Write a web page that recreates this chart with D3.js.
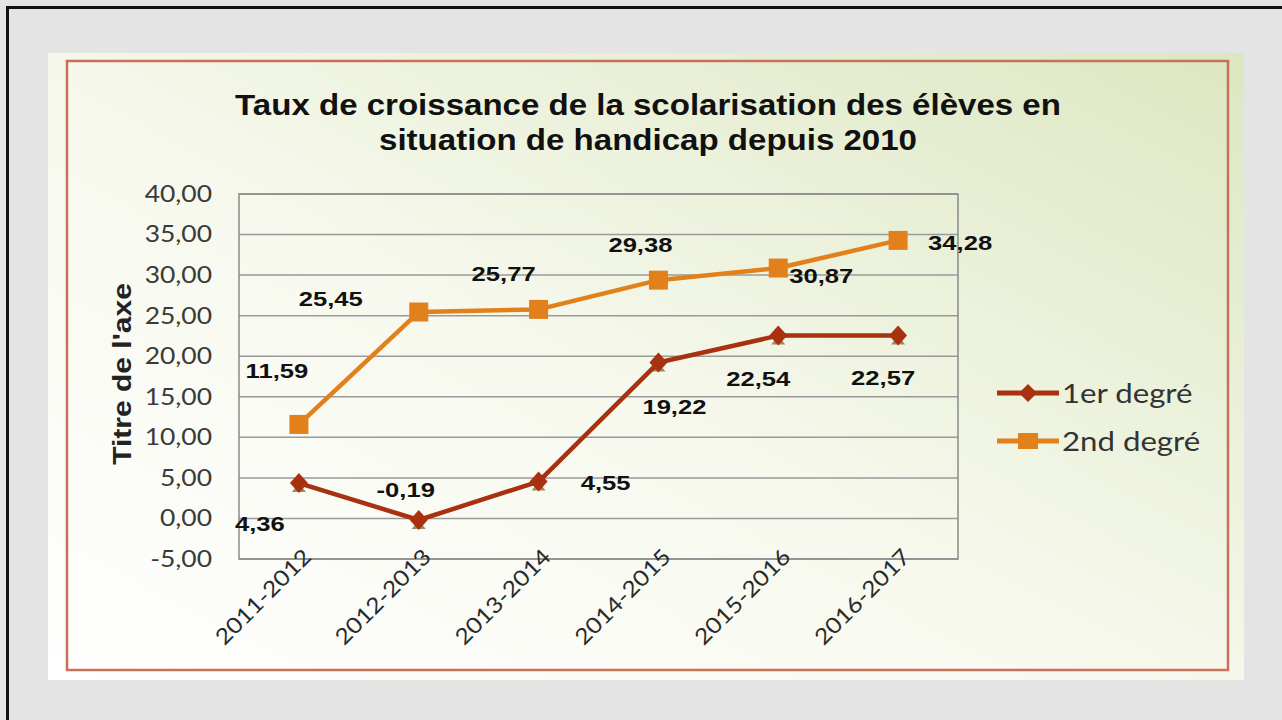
<!DOCTYPE html>
<html>

<head>
    <meta charset='utf-8'>
    <title>Taux de croissance</title>
    <script type='text/javascript' src='https://cdn.jsdelivr.net/npm/d3@7/dist/d3.min.js'></script>
    <style>
        body { margin: 0; background: #e4e4e4; }
    </style>
</head>

<body>
    <svg width='1282' height='720'></svg>
    <script type='text/javascript'>

        // données
        const years = ['2011-2012', '2012-2013', '2013-2014', '2014-2015', '2015-2016', '2016-2017']
        const premierDegre = [4.36, -0.19, 4.55, 19.22, 22.54, 22.57]
        const secondDegre = [11.59, 25.45, 25.77, 29.38, 30.87, 34.28]
        const seriesNames = ['1er degré', '2nd degré']
        const yTicks = [-5, 0, 5, 10, 15, 20, 25, 30, 35, 40]

        // décalage des étiquettes (placement Excel)
        const labelOffset1 = [[-39, 41], [-13, -30], [67, 1], [16, 44], [-20, 43], [-15, 42]]
        const labelOffset2 = [[-22, -54], [-88, -13], [-35, -36], [-18, -35], [43, 8], [62, 2]]

        const svg = d3.select('svg')
        const W = 1282, H = 720
        const fontAxis = 'Lato, "DejaVu Sans", sans-serif'
        const fontBold = '"Liberation Sans", Arial, sans-serif'
        const fmt = d => d3.format('.2f')(d).replace('.', ',').replace('−', '-')

        // fond de page + cadre noir
        svg.append('rect').attr('x', 0).attr('y', 0).attr('width', W).attr('height', H).attr('fill', '#e4e4e4')
        svg.append('path').attr('d', `M7.5,${H + 5} V7.5 H${W + 5}`)
            .attr('fill', 'none').attr('stroke', '#111').attr('stroke-width', 3)

        const defs = svg.append('defs')
        const grad = defs.append('linearGradient').attr('id', 'bg')
            .attr('x1', '0%').attr('y1', '100%').attr('x2', '100%').attr('y2', '0%')
        grad.append('stop').attr('offset', '0%').attr('stop-color', '#ffffff')
        grad.append('stop').attr('offset', '45%').attr('stop-color', '#f7f9ee')
        grad.append('stop').attr('offset', '100%').attr('stop-color', '#dce7c1')

        // image du graphique
        svg.append('rect').attr('x', 48).attr('y', 53).attr('width', 1196).attr('height', 627).attr('fill', 'url(#bg)')
        svg.append('rect').attr('x', 67).attr('y', 61).attr('width', 1161).attr('height', 609)
            .attr('fill', 'none').attr('stroke', '#c8705a').attr('stroke-width', 2.5)

        // titre (capture étirée horizontalement)
        const title = svg.append('text').attr('text-anchor', 'middle')
            .attr('transform', 'translate(648,0) scale(1.14,1)')
            .style('font-family', fontBold).style('font-weight', 'bold').style('font-size', '29px').attr('fill', '#111')
        title.append('tspan').attr('x', 0).attr('y', 115).text('Taux de croissance de la scolarisation des élèves en')
        title.append('tspan').attr('x', 0).attr('y', 150).text('situation de handicap depuis 2010')

        const plot = { left: 239, top: 194, right: 958, bottom: 559 }

        const x = d3.scalePoint().domain(years).range([plot.left, plot.right]).padding(0.5)
        const y = d3.scaleLinear().domain([-5, 40]).range([plot.bottom, plot.top])

        // grille
        svg.append('g').selectAll('line').data(yTicks).enter().append('line')
            .attr('x1', plot.left).attr('x2', plot.right)
            .attr('y1', d => y(d)).attr('y2', d => y(d))
            .attr('stroke', '#9a9a9a').attr('stroke-width', 1.5)
        svg.append('rect').attr('x', plot.left).attr('y', plot.top)
            .attr('width', plot.right - plot.left).attr('height', plot.bottom - plot.top)
            .attr('fill', 'none').attr('stroke', '#8a8a8a').attr('stroke-width', 1.5)

        // axe Y
        const yAxis = svg.append('g').attr('transform', `translate(${plot.left},0)`)
            .call(d3.axisLeft(y).tickValues(yTicks).tickSize(0).tickPadding(0).tickFormat(fmt))
        yAxis.select('.domain').remove()
        yAxis.selectAll('text').style('font-family', fontAxis).style('font-size', '23px').attr('fill', '#3a3a3a')
            .attr('x', 0).attr('transform', 'translate(-27,0) scale(1.15,1)')

        // axe X
        const xAxis = svg.append('g').attr('transform', `translate(0,${plot.bottom})`)
            .call(d3.axisBottom(x).tickSize(0).tickPadding(0))
        xAxis.select('.domain').remove()
        xAxis.selectAll('text')
            .style('font-family', fontAxis).style('font-size', '22px').attr('fill', '#2a2a2a')
            .attr('text-anchor', 'end').attr('dy', null).attr('y', 0)
            .attr('transform', 'translate(1,-13) rotate(-45) scale(1.13,1)')
            .attr('dominant-baseline', 'hanging')

        // titre axe
        svg.append('text').attr('transform', 'translate(131,374) rotate(-90) scale(1.2,1)').attr('text-anchor', 'middle')
            .style('font-family', fontBold).style('font-weight', 'bold').style('font-size', '25px').attr('fill', '#222')
            .text("Titre de l'axe")

        const color1 = '#a8310f', color2 = '#e2801b'
        const line = d3.line().x((d, i) => x(years[i])).y(d => y(d))

        function drawSeries(values, color, shape, offsets) {
            const g = svg.append('g')
            g.append('path').datum(values).attr('d', line)
                .attr('fill', 'none').attr('stroke', color).attr('stroke-width', 4.5).attr('stroke-linejoin', 'round')
            g.selectAll('.m').data(values).enter().append('path')
                .attr('d', shape)
                .attr('transform', (d, i) => `translate(${x(years[i])},${y(d)})`)
                .attr('fill', color)
            g.selectAll('.lbl').data(values).enter().append('text')
                .attr('transform', (d, i) => `translate(${x(years[i]) + offsets[i][0]},${y(d) + offsets[i][1]}) scale(1.22,1)`)
                .attr('text-anchor', 'middle').attr('dominant-baseline', 'central')
                .style('font-family', fontBold).style('font-weight', 'bold').style('font-size', '21px').attr('fill', '#111')
                .text(fmt)
        }

        const diamond = 'M0,-10 L9,0 L0,10 L-9,0 Z'
        const square = 'M-9.5,-9.5 H9.5 V9.5 H-9.5 Z'
        // petite ombre sous les losanges
        svg.append('g').selectAll('path').data(premierDegre).enter().append('path')
            .attr('d', 'M-7,9 L0,0 L7,9 Z')
            .attr('transform', (d, i) => `translate(${x(years[i])},${y(d)})`)
            .attr('fill', '#9a8a6a')
        drawSeries(premierDegre, color1, diamond, labelOffset1)
        drawSeries(secondDegre, color2, square, labelOffset2)

        // légende
        const legend = svg.append('g').attr('transform', 'translate(997,393)')
        const legendItems = [[color1, 'M0,-9 L9,0 L0,9 L-9,0 Z'], [color2, 'M-10,-8 H10 V8 H-10 Z']]
        legendItems.forEach((it, i) => {
            const lg = legend.append('g').attr('transform', `translate(0,${i * 48})`)
            lg.append('line').attr('x1', 0).attr('x2', 62).attr('stroke', it[0]).attr('stroke-width', 5)
            lg.append('path').attr('d', it[1]).attr('transform', 'translate(31,0)').attr('fill', it[0])
            lg.append('text').attr('transform', 'translate(65,0) scale(1.2,1)').attr('dominant-baseline', 'central')
                .style('font-family', fontAxis).style('font-size', '26px').attr('fill', '#333')
                .text(seriesNames[i])
        })
    </script>
</body>

</html>
